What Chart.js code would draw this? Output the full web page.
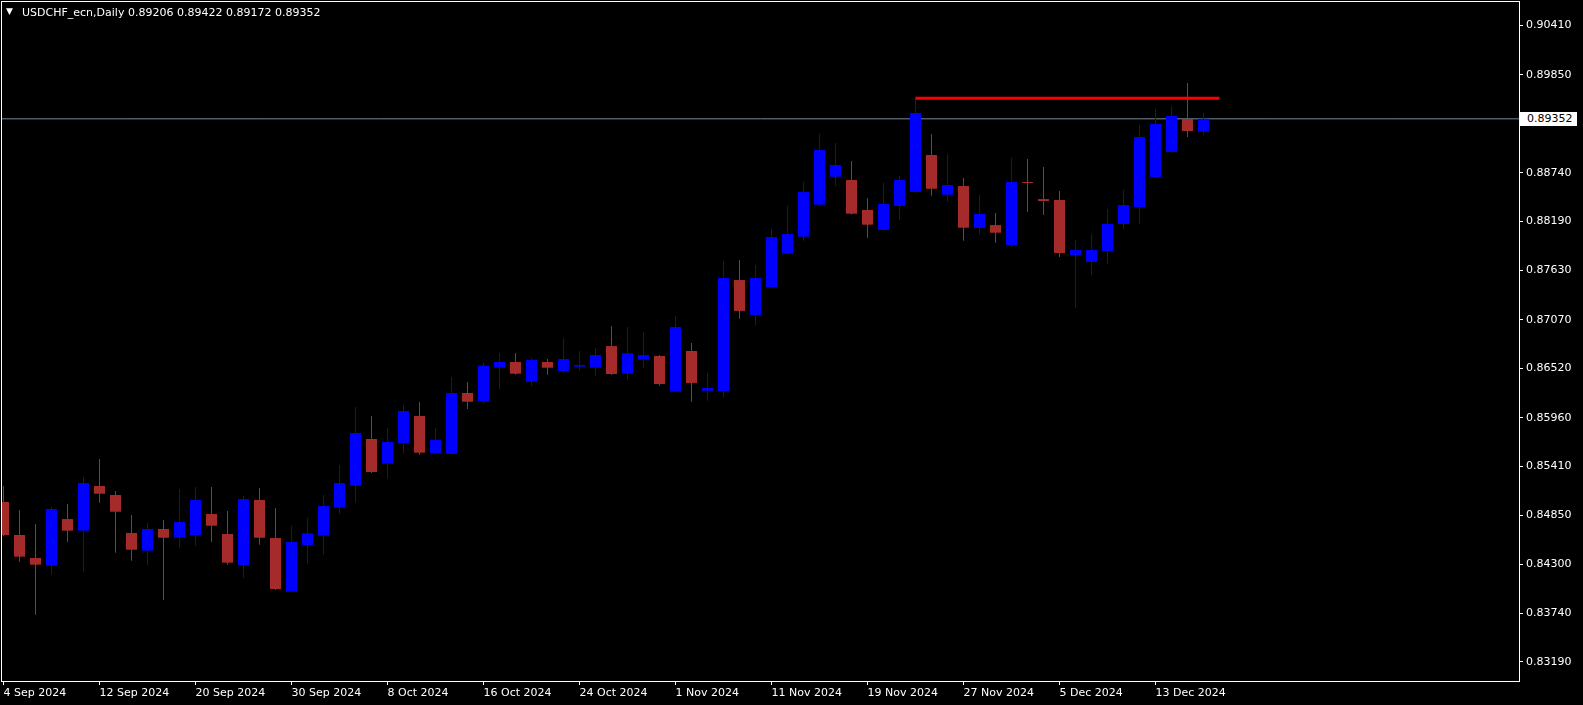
<!DOCTYPE html>
<html><head><meta charset="utf-8">
<script src="https://cdn.jsdelivr.net/npm/chart.js@4.4.1/dist/chart.umd.min.js"></script>
<style>
html,body{margin:0;padding:0;background:#000;overflow:hidden;}
#wrap{position:relative;width:1583px;height:705px;background:#000;}
canvas{position:absolute;left:0;top:0;}
.t{position:absolute;color:#fff;font-family:"DejaVu Sans";font-size:11px;line-height:13px;white-space:pre;}
#pbox{position:absolute;left:1520px;width:57px;height:14px;background:#fff;color:#000;font-family:"DejaVu Sans";font-size:11px;line-height:14px;white-space:pre;}
</style></head>
<body><div id="wrap"><canvas id="c" width="1583" height="705"></canvas>
<div class="t" style="left:6px;top:6px;font-size:9px;line-height:11px">▼</div>
<div class="t" id="sym" style="left:22px;top:6px;"></div>
<div class="t" id="ohlc" style="left:128px;top:6px;"></div>
<div id="pbox"></div>
</div>
<script>
const symbolName = "USDCHF_ecn,Daily";
const dates = [
"2024-09-04","2024-09-05","2024-09-06","2024-09-09","2024-09-10","2024-09-11","2024-09-12","2024-09-13","2024-09-16","2024-09-17",
"2024-09-18","2024-09-19","2024-09-20","2024-09-23","2024-09-24","2024-09-25","2024-09-26","2024-09-27","2024-09-30","2024-10-01",
"2024-10-02","2024-10-03","2024-10-04","2024-10-07","2024-10-08","2024-10-09","2024-10-10","2024-10-11","2024-10-14","2024-10-15",
"2024-10-16","2024-10-17","2024-10-18","2024-10-21","2024-10-22","2024-10-23","2024-10-24","2024-10-25","2024-10-28","2024-10-29",
"2024-10-30","2024-10-31","2024-11-01","2024-11-04","2024-11-05","2024-11-06","2024-11-07","2024-11-08","2024-11-11","2024-11-12",
"2024-11-13","2024-11-14","2024-11-15","2024-11-18","2024-11-19","2024-11-20","2024-11-21","2024-11-22","2024-11-25","2024-11-26",
"2024-11-27","2024-11-28","2024-11-29","2024-12-02","2024-12-03","2024-12-04","2024-12-05","2024-12-06","2024-12-09","2024-12-10",
"2024-12-11","2024-12-12","2024-12-13","2024-12-16","2024-12-17","2024-12-18"];
const opens = [
0.85004,0.84630,0.84369,0.84281,0.84811,0.84679,0.85186,0.85084,0.84653,0.84452,
0.84698,0.84599,0.84630,0.84868,0.84641,0.84289,0.85027,0.84596,0.83986,0.84516,
0.84622,0.84940,0.85189,0.85719,0.85439,0.85674,0.85980,0.85560,0.85549,0.86241,
0.86142,0.86528,0.86593,0.86369,0.86593,0.86491,0.86540,0.86528,0.86774,0.86460,
0.86619,0.86661,0.86256,0.86718,0.86267,0.86264,0.87523,0.87126,0.87444,0.87822,
0.88015,0.88378,0.88695,0.88658,0.88318,0.88091,0.88363,0.88522,0.88942,0.88491,
0.88590,0.88113,0.88147,0.87920,0.88635,0.88442,0.88431,0.87807,0.87728,0.87852,
0.88159,0.88352,0.88692,0.88976,0.89350,0.89206];
const highs = [
0.85186,0.84914,0.84755,0.84951,0.84982,0.85288,0.85492,0.85129,0.84857,0.84766,
0.84800,0.85152,0.85175,0.85175,0.84902,0.85072,0.85163,0.84936,0.84732,0.84823,
0.85084,0.85424,0.86082,0.85980,0.85844,0.86105,0.86139,0.85844,0.86423,0.86366,
0.86582,0.86695,0.86695,0.86638,0.86627,0.86865,0.86718,0.86752,0.87001,0.86990,
0.86933,0.86672,0.87115,0.86808,0.86468,0.87739,0.87750,0.87694,0.88102,0.88363,
0.88635,0.89180,0.89078,0.88874,0.88454,0.88627,0.88703,0.89585,0.89180,0.88953,
0.88681,0.88488,0.88284,0.88908,0.88896,0.88806,0.88533,0.87977,0.88045,0.88329,
0.88545,0.89282,0.89464,0.89498,0.89759,0.89422];
const lows = [
0.84618,0.84327,0.83726,0.84179,0.84554,0.84213,0.84996,0.84429,0.84338,0.84289,
0.83892,0.84486,0.84508,0.84554,0.84293,0.84145,0.84520,0.84006,0.83983,0.84304,
0.84406,0.84872,0.84996,0.85333,0.85269,0.85552,0.85541,0.85549,0.85538,0.86060,
0.86120,0.86286,0.86449,0.86324,0.86449,0.86471,0.86494,0.86437,0.86446,0.86392,
0.86528,0.86324,0.86252,0.86142,0.86154,0.86188,0.87084,0.87005,0.87433,0.87813,
0.87969,0.88369,0.88590,0.88267,0.88003,0.88083,0.88204,0.88514,0.88480,0.88412,
0.87969,0.88037,0.87947,0.87898,0.88295,0.88261,0.87784,0.87206,0.87580,0.87705,
0.88102,0.88159,0.88684,0.88964,0.89146,0.89172];
const closes = [
0.84630,0.84384,0.84293,0.84925,0.84679,0.85220,0.85098,0.84894,0.84463,0.84698,
0.84599,0.84777,0.85027,0.84735,0.84316,0.85038,0.84599,0.84017,0.84550,0.84649,
0.84959,0.85220,0.85787,0.85345,0.85685,0.86037,0.85564,0.85708,0.86241,0.86142,
0.86551,0.86593,0.86460,0.86616,0.86528,0.86627,0.86559,0.86672,0.86457,0.86692,
0.86672,0.86343,0.86990,0.86355,0.86298,0.87546,0.87172,0.87546,0.88011,0.88045,
0.88522,0.88998,0.88828,0.88276,0.88151,0.88386,0.88658,0.89418,0.88559,0.88601,
0.88117,0.88272,0.88060,0.88635,0.88624,0.88420,0.87830,0.87864,0.87864,0.88159,
0.88374,0.89146,0.89293,0.89384,0.89214,0.89352];
const yTickValues = [0.90410,0.89850,0.89300,0.88740,0.88190,0.87630,0.87070,0.86520,0.85960,0.85410,0.84850,0.84300,0.83740,0.83190];
const xTickEvery = 6;
const resistanceLevel = 0.89585;
const resistanceFromIdx = 57;
const resistanceToIdx = 76;
const monthNames = ["Jan","Feb","Mar","Apr","May","Jun","Jul","Aug","Sep","Oct","Nov","Dec"];

const BULL = "#0000FF", BEAR = "#A52A2A";
const last = closes.length - 1;
const idx = dates.map((d, i) => i);
const fmtDate = d => { const p = d.split("-"); return (+p[2]) + " " + monthNames[+p[1] - 1] + " " + p[0]; };
const colorOf = i => closes[i] >= opens[i] ? BULL : BEAR;

document.getElementById("sym").textContent = symbolName;
document.getElementById("ohlc").textContent =
  [opens[last], highs[last], lows[last], closes[last]].map(v => v.toFixed(5)).join(" ");
const pbox = document.getElementById("pbox");
pbox.textContent = "  " + closes[last].toFixed(5);

const bodies = idx.map(i => ({x: i, y: [Math.min(opens[i], closes[i]), Math.max(opens[i], closes[i])]}));
const wicks = idx.map(i => ({x: i, y: [lows[i], highs[i]]}));

const frame = {
  id: "frame",
  afterDraw(chart) {
    const {ctx, chartArea: a} = chart;
    ctx.save();
    ctx.strokeStyle = "#fff"; ctx.lineWidth = 1;
    ctx.strokeRect(a.left - 0.5, a.top - 0.5, a.right - a.left + 1, a.bottom - a.top + 1);
    ctx.restore();
    pbox.style.top = (chart.scales.y.getPixelForValue(closes[last]) - 7) + "px";
  }
};

new Chart(document.getElementById("c"), {
  type: "bar",
  data: {
    datasets: [
      {type: "line", data: [{x: resistanceFromIdx, y: resistanceLevel}, {x: resistanceToIdx, y: resistanceLevel}],
       borderColor: "#FF0000", borderWidth: 3, pointRadius: 0, order: 0},
      {type: "bar", data: bodies, backgroundColor: c => colorOf(c.dataIndex), borderWidth: 0,
       barThickness: 11, grouped: false, minBarLength: 1, inflateAmount: 0, order: 1},
      {type: "bar", data: wicks, backgroundColor: c => colorOf(c.dataIndex), borderWidth: 0,
       barThickness: 1, grouped: false, inflateAmount: 0, order: 2},
      {type: "line", data: [{x: -1, y: closes[last]}, {x: 96, y: closes[last]}],
       borderColor: "#778899", borderWidth: 1, pointRadius: 0, order: 3}
    ]
  },
  options: {
    responsive: false, animation: false,
    layout: {padding: {left: 2, top: 2, right: 0, bottom: 0}},
    plugins: {legend: {display: false}, tooltip: {enabled: false}},
    scales: {
      x: {
        type: "linear", min: -0.09375, max: 94.71875, offset: false,
        afterBuildTicks: s => { s.ticks = idx.filter(i => i % xTickEvery === 0).map(v => ({value: v})); },
        afterFit: s => { s.height = 24; s.paddingLeft = 0; s.paddingRight = 0; },
        grid: {display: true, offset: false, drawOnChartArea: false, drawTicks: true, tickLength: 4, color: "#fff"},
        border: {display: false},
        ticks: {color: "#fff", font: {family: "DejaVu Sans", size: 11}, align: "start", maxRotation: 0,
                autoSkip: false, padding: 2, callback: v => fmtDate(dates[v])}
      },
      y: {
        type: "linear", position: "right", min: 0.8297317, max: 0.9067779,
        afterBuildTicks: s => { s.ticks = yTickValues.map(v => ({value: v})); },
        afterFit: s => { s.width = 64; s.paddingTop = 0; s.paddingBottom = 0; },
        grid: {drawOnChartArea: false, drawTicks: true, tickLength: 4, color: "#fff"},
        border: {display: false},
        ticks: {color: "#fff", font: {family: "DejaVu Sans", size: 11}, padding: 3, callback: v => v.toFixed(5)}
      }
    }
  },
  plugins: [frame]
});
</script>
</body></html>
